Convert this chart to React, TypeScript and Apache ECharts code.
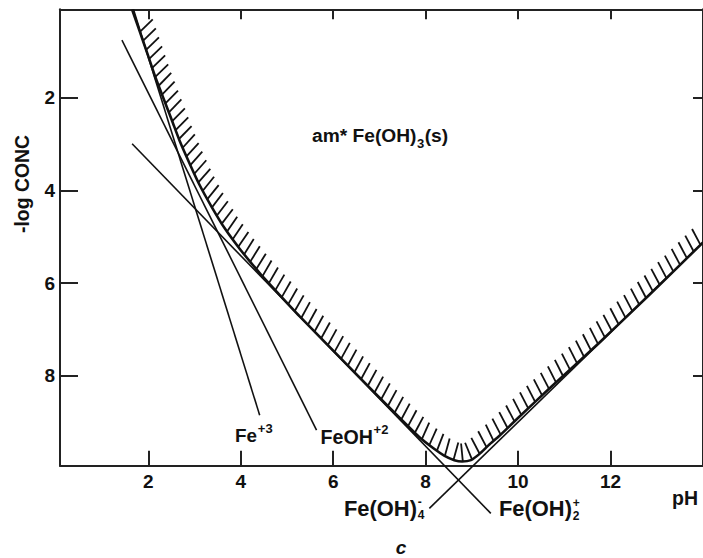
import React, { useEffect, useRef } from "react";
import * as echarts from "echarts";

// Axis ticks
const xTicks = [2, 4, 6, 8, 10, 12];
const yTicks = [2, 4, 6, 8];

// Species lines (pH, -log CONC)
const fe3Line = [
  [1.68, 0.09],
  [4.41, 8.85],
];
const feoh2Line = [
  [1.43, 0.75],
  [5.64, 9.17],
];
const feoh2pLine = [
  [1.65, 2.99],
  [9.41, 10.97],
];
const feoh4mLine = [
  [8.08, 10.86],
  [14.0, 5.12],
];

// Total solubility boundary of am* Fe(OH)3(s)
const solubilityCurve = [
  [1.65, 0.09],
  [1.82, 0.58],
  [1.99, 1.07],
  [2.16, 1.57],
  [2.34, 2.04],
  [2.51, 2.48],
  [2.68, 2.93],
  [2.9, 3.43],
  [3.11, 3.88],
  [3.37, 4.35],
  [3.65, 4.81],
  [3.98, 5.26],
  [4.41, 5.78],
  [4.84, 6.25],
  [5.27, 6.71],
  [6.35, 7.81],
  [7.43, 8.9],
  [7.86, 9.32],
  [8.19, 9.58],
  [8.4, 9.72],
  [8.62, 9.82],
  [8.79, 9.85],
  [8.98, 9.82],
  [9.16, 9.69],
  [9.37, 9.49],
  [9.59, 9.3],
  [10.02, 8.89],
  [10.67, 8.28],
  [11.75, 7.29],
  [12.83, 6.26],
  [14.0, 5.12],
];

const FONT = '"Liberation Sans", Arial, Helvetica, sans-serif';
const INK = "#111";
const SMALL = 13;
const STACK = 12;

let measureCtx: CanvasRenderingContext2D | null = null;
function textWidth(text: string, size: number, style = "bold") {
  if (!measureCtx) measureCtx = document.createElement("canvas").getContext("2d");
  if (!measureCtx) return text.length * size * 0.6;
  measureCtx.font = `${style} ${size}px ${FONT}`;
  return measureCtx.measureText(text).width;
}
function fitSize(text: string, target: number, style = "bold") {
  return (100 * target) / textWidth(text, 100, style);
}

function txt(
  text: string,
  x: number,
  y: number,
  size: number,
  extra: Record<string, any> = {}
) {
  return {
    type: "text",
    silent: true,
    z: 20,
    style: {
      text,
      x,
      y,
      fill: INK,
      font: `bold ${size}px ${FONT}`,
      align: "left",
      textAlign: "left",
      verticalAlign: "middle",
      textVerticalAlign: "middle",
      ...extra,
    },
  };
}

// main text fitted to a width, followed by a superscript and/or subscript
function speciesLabel(
  main: string,
  x: number,
  y: number,
  width: number,
  sup: string | null,
  sub: string | null,
  supDy: number,
  subDy: number
) {
  const size = fitSize(main, width);
  const out: any[] = [txt(main, x, y, size)];
  const sx = x + width + 0.8;
  if (sup && sub) {
    out.push(txt(sup, sx, y + supDy, STACK));
    out.push(txt(sub, sx, y + subDy, STACK));
  } else if (sup) {
    out.push(txt(sup, sx, y + supDy, SMALL));
  } else if (sub) {
    out.push(txt(sub, sx, y + subDy, SMALL));
  }
  return out;
}

export default function App() {
  const ref = useRef<HTMLDivElement>(null);

  useEffect(() => {
    if (!ref.current) return;
    const chart = echarts.init(ref.current, undefined, { renderer: "svg" });

    const axisLine = { show: true, onZero: false, lineStyle: { color: "#222", width: 2 } };
    const labelStyle = {
      fontFamily: FONT,
      fontWeight: "bold",
      fontSize: 19,
      color: INK,
    };

    const thin = (data: number[][]) => ({
      type: "line",
      data,
      symbol: "none",
      showSymbol: false,
      clip: false,
      silent: true,
      lineStyle: { color: INK, width: 1.6 },
      z: 4,
    });

    const yTitle: any = txt("-log CONC", 0, 0, fitSize("-log CONC", 98), {
      align: "center",
      textAlign: "center",
    });
    yTitle.rotation = Math.PI / 2;
    yTitle.x = 22;
    yTitle.y = 184;

    // am* Fe(OH)3(s)
    const amMain = "am* Fe(OH)";
    const amSize = fitSize(amMain, 104.5);
    const amX = 312;
    const subX = amX + 104.5 + 0.5;
    const tailX = subX + textWidth("3", SMALL) + 0.5;
    const amLabel = [
      txt(amMain, amX, 135, amSize),
      txt("3", subX, 143.5, SMALL),
      txt("(s)", tailX, 135, amSize),
    ];

    const graphic: any[] = [
      yTitle,
      ...amLabel,
      ...speciesLabel("Fe", 235, 435, 22, "+3", null, -7, 0),
      ...speciesLabel("FeOH", 320.5, 436.5, 52.3, "+2", null, -7.5, 0),
      ...speciesLabel("Fe(OH)", 344, 508, 73, "-", "4", -6.5, 7),
      ...speciesLabel("Fe(OH)", 499, 508, 73, "+", "2", -5.5, 7.5),
      txt("pH", 672, 498, fitSize("pH", 26)),
      {
        type: "text",
        silent: true,
        z: 20,
        style: {
          text: "c",
          x: 401,
          y: 547,
          fill: INK,
          font: `italic bold 19px ${FONT}`,
          align: "center",
          textAlign: "center",
          verticalAlign: "middle",
          textVerticalAlign: "middle",
        },
      },
    ];

    const option: any = {
      animation: false,
      backgroundColor: "#fff",
      grid: { left: 60, top: 9.3, width: 644.5, height: 456.4, containLabel: false },
      xAxis: [
        {
          type: "value",
          position: "bottom",
          min: 0.09,
          max: 14,
          axisLine,
          axisTick: { show: true, inside: true, length: 15, customValues: xTicks, lineStyle: { color: "#222", width: 2 } },
          axisLabel: { show: true, customValues: xTicks, margin: 6, ...labelStyle },
          splitLine: { show: false },
        },
        {
          type: "value",
          position: "top",
          min: 0.09,
          max: 14,
          axisLine,
          axisTick: { show: true, inside: true, length: 10, customValues: xTicks, lineStyle: { color: "#222", width: 2 } },
          axisLabel: { show: false },
          splitLine: { show: false },
        },
      ],
      yAxis: [
        {
          type: "value",
          position: "left",
          inverse: true,
          min: 0.086,
          max: 9.94,
          axisLine,
          axisTick: { show: true, inside: true, length: 18, customValues: yTicks, lineStyle: { color: "#222", width: 2 } },
          axisLabel: { show: true, customValues: yTicks, margin: 5, ...labelStyle },
          splitLine: { show: false },
        },
        {
          type: "value",
          position: "right",
          inverse: true,
          min: 0.086,
          max: 9.94,
          axisLine,
          axisTick: { show: true, inside: true, length: 10, customValues: yTicks, lineStyle: { color: "#222", width: 2 } },
          axisLabel: { show: false },
          splitLine: { show: false },
        },
      ],
      series: [
        thin(fe3Line),
        thin(feoh2Line),
        thin(feoh2pLine),
        thin(feoh4mLine),
        {
          type: "line",
          data: solubilityCurve,
          symbol: "none",
          showSymbol: false,
          clip: false,
          silent: true,
          smooth: 0.2,
          lineStyle: { color: INK, width: 2.6 },
          z: 5,
        },
        {
          type: "custom",
          coordinateSystem: "cartesian2d",
          silent: true,
          data: [[7, 5]],
          z: 3,
          renderItem: (params: any, api: any) => {
            const pts = solubilityCurve.map((p) => api.coord(p));
            const cs = params.coordSys;
            const children: any[] = [];
            const spacing = 9.5;
            const len = 18;
            let acc = spacing / 2;
            for (let i = 0; i < pts.length - 1; i++) {
              const [x0, y0] = pts[i];
              const [x1, y1] = pts[i + 1];
              const segLen = Math.hypot(x1 - x0, y1 - y0);
              if (segLen === 0) continue;
              const tx = (x1 - x0) / segLen;
              const ty = (y1 - y0) / segLen;
              let dx = ty;
              let dy = -tx - 0.6;
              const dl = Math.hypot(dx, dy);
              dx /= dl;
              dy /= dl;
              while (acc <= segLen) {
                const px = x0 + tx * acc;
                const py = y0 + ty * acc;
                const ex = px + dx * len;
                const ey = py + dy * len;
                if (ey >= cs.y + 2) {
                  children.push({
                    type: "line",
                    shape: { x1: px, y1: py, x2: ex, y2: ey },
                    style: { stroke: INK, lineWidth: 1.8 },
                  });
                }
                acc += spacing;
              }
              acc -= segLen;
            }
            return { type: "group", children };
          },
        },
      ],
      graphic,
    };

    chart.setOption(option);
    return () => chart.dispose();
  }, []);

  return (
    <div
      ref={ref}
      style={{ position: "fixed", left: 0, top: 0, width: 703, height: 558, background: "#fff" }}
    />
  );
}
